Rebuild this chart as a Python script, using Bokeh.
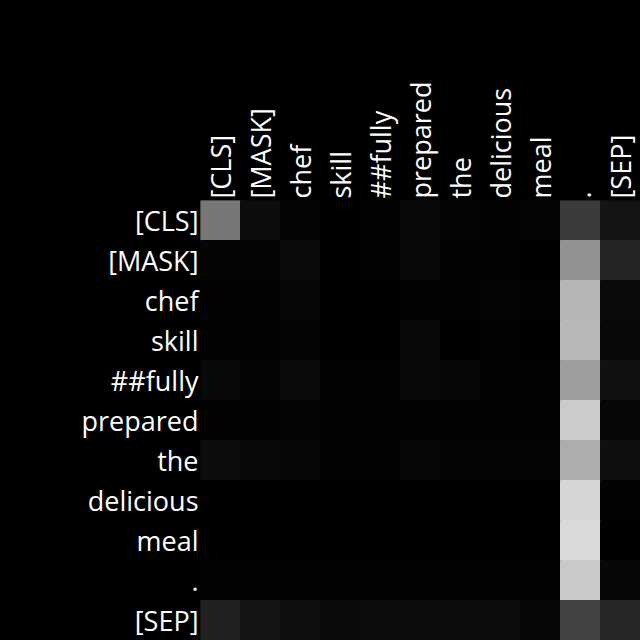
import numpy as np
from bokeh.plotting import figure
from bokeh.models import ColumnDataSource, LinearColorMapper
from bokeh.palettes import Greys256
from bokeh.embed import file_html
from bokeh.resources import INLINE
from math import pi

tokens = ["[CLS]", "[MASK]", "chef", "skill", "##fully", "prepared", "the",
          "delicious", "meal", ".", "[SEP]"]

# attention weights (row = query token, column = key token), read as gray level / 255
row_cls      = [119, 13, 5, 1, 3, 8, 4, 3, 4, 59, 20]
row_mask     = [5, 4, 11, 1, 2, 9, 3, 2, 1, 146, 36]
row_chef     = [2, 2, 6, 1, 1, 3, 2, 4, 2, 182, 10]
row_skill    = [3, 2, 5, 1, 1, 8, 1, 2, 1, 184, 8]
row_fully    = [9, 5, 11, 3, 3, 9, 6, 3, 3, 158, 17]
row_prepared = [2, 2, 4, 2, 2, 2, 3, 3, 3, 203, 6]
row_the      = [13, 8, 7, 2, 3, 6, 5, 4, 4, 173, 15]
row_delic    = [1, 1, 1, 1, 1, 1, 1, 1, 1, 214, 3]
row_meal     = [1, 1, 1, 1, 1, 1, 1, 1, 1, 217, 1]
row_dot      = [2, 2, 2, 2, 2, 2, 2, 2, 2, 201, 7]
row_sep      = [33, 20, 14, 10, 13, 13, 12, 12, 6, 67, 38]

rows = [row_cls, row_mask, row_chef, row_skill, row_fully, row_prepared,
        row_the, row_delic, row_meal, row_dot, row_sep]

xs, ys, vals = [], [], []
for i, r in enumerate(rows):
    for j, v in enumerate(r):
        ys.append(tokens[i])
        xs.append(tokens[j])
        vals.append(v / 255.0)

src = ColumnDataSource(dict(x=xs, y=ys, v=vals))
mapper = LinearColorMapper(palette=Greys256, low=0, high=1)

p = figure(width=640, height=640, x_range=tokens, y_range=list(reversed(tokens)),
           x_axis_location="above", output_backend="svg", toolbar_location=None,
           min_border_left=200, min_border_top=200, min_border_right=0, min_border_bottom=0)
p.rect(x="x", y="y", width=1, height=1, source=src,
       fill_color={"field": "v", "transform": mapper},
       line_color={"field": "v", "transform": mapper}, line_width=1)

p.styles = {"background-color": "black"}
p.background_fill_color = "black"
p.border_fill_color = "black"
p.outline_line_color = None
p.grid.grid_line_color = None
for ax in [p.xaxis[0], p.yaxis[0]]:
    ax.axis_line_color = None
    ax.major_tick_line_color = None
    ax.minor_tick_line_color = None
    ax.major_label_text_color = "white"
    ax.major_label_text_font = "Open Sans"
    ax.major_label_text_font_size = "27px"
    ax.major_label_standoff = 2
    ax.major_tick_out = 0
    ax.major_tick_in = 0
p.xaxis.major_label_orientation = pi / 2

open("out.html", "w").write(file_html(p, INLINE))
